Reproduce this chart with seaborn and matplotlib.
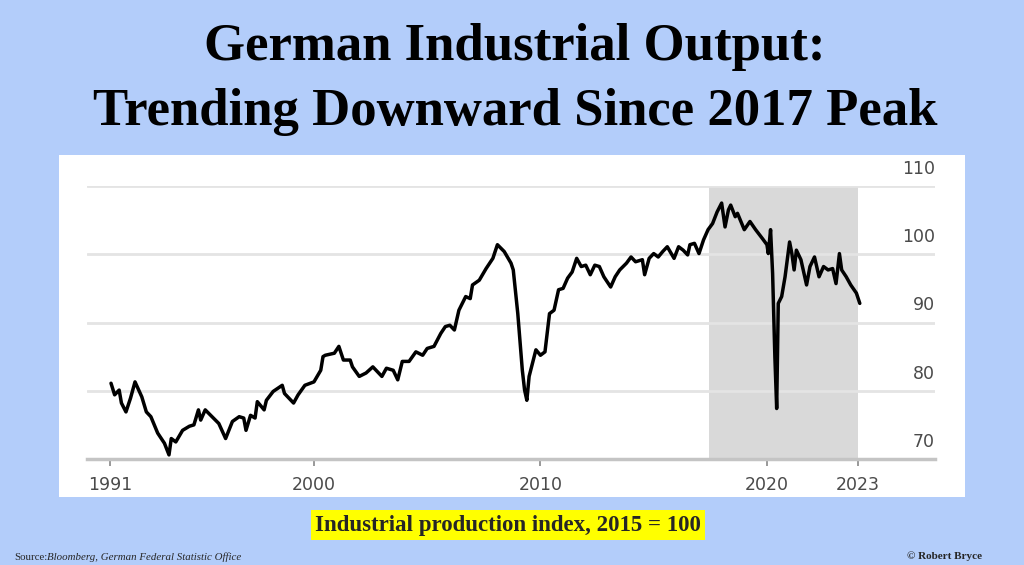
import matplotlib
matplotlib.use("Agg")
import matplotlib.pyplot as plt
import matplotlib.transforms as mtransforms
from matplotlib.patches import Rectangle
import seaborn as sns

# industrial production index (2015 = 100)
years = [1991.04, 1991.2, 1991.4, 1991.5, 1991.7, 1991.9, 1992.1, 1992.4, 1992.6, 1992.8,
         1993.1, 1993.4, 1993.6, 1993.7, 1993.9, 1994.2, 1994.5, 1994.7, 1994.9, 1995.0,
         1995.2, 1995.5, 1995.8, 1996.1, 1996.4, 1996.7, 1996.9, 1997.0, 1997.2, 1997.4,
         1997.5, 1997.8, 1997.9, 1998.2, 1998.6, 1998.7, 1998.9, 1999.1, 1999.3, 1999.6,
         2000.0, 2000.3, 2000.4, 2000.5, 2000.9, 2001.1, 2001.3, 2001.6, 2001.7, 2002.0,
         2002.3, 2002.6, 2003.0, 2003.2, 2003.5, 2003.7, 2003.9, 2004.2, 2004.5, 2004.8,
         2005.0, 2005.3, 2005.6, 2005.8, 2006.0, 2006.2, 2006.4, 2006.7, 2006.9, 2007.0,
         2007.3, 2007.6, 2007.9, 2008.1, 2008.4, 2008.7, 2008.8, 2009.0, 2009.2, 2009.3,
         2009.4, 2009.5, 2009.8, 2010.0, 2010.2, 2010.4, 2010.6, 2010.8, 2011.0, 2011.2,
         2011.4, 2011.6, 2011.8, 2012.0, 2012.2, 2012.4, 2012.6, 2012.8, 2013.1, 2013.3,
         2013.5, 2013.8, 2014.0, 2014.2, 2014.5, 2014.6, 2014.8, 2015.0, 2015.2, 2015.4,
         2015.6, 2015.9, 2016.1, 2016.3, 2016.5, 2016.6, 2016.8, 2017.0, 2017.2, 2017.4,
         2017.6, 2017.8, 2018.0, 2018.15, 2018.3, 2018.4, 2018.6, 2018.7, 2019.0, 2019.25,
         2019.5, 2019.8, 2020.0, 2020.06, 2020.16, 2020.25, 2020.35, 2020.43, 2020.5, 2020.65,
         2020.8, 2021.0, 2021.1, 2021.2, 2021.3, 2021.5, 2021.75, 2021.9, 2022.1, 2022.3,
         2022.5, 2022.7, 2022.9, 2023.05, 2023.2, 2023.3, 2023.5, 2023.7, 2023.95, 2024.1]
index = [81.1, 79.4, 80.1, 78.2, 76.9, 78.9, 81.3, 79.1, 76.9, 76.2,
         73.8, 72.3, 70.6, 73.0, 72.5, 74.2, 74.8, 75.0, 77.2, 75.7,
         77.2, 76.2, 75.2, 73.0, 75.5, 76.2, 76.0, 74.2, 76.4, 76.0,
         78.4, 77.2, 78.6, 79.9, 80.8, 79.6, 78.9, 78.2, 79.4, 80.8,
         81.3, 83.0, 85.0, 85.2, 85.5, 86.5, 84.5, 84.5, 83.5, 82.1,
         82.6, 83.5, 82.1, 83.3, 83.0, 81.6, 84.3, 84.3, 85.7, 85.2,
         86.2, 86.5, 88.4, 89.4, 89.6, 88.9, 91.8, 93.8, 93.5, 95.5,
         96.2, 97.9, 99.4, 101.4, 100.4, 98.7, 97.7, 91.3, 83.0, 80.1,
         78.6, 82.1, 86.0, 85.2, 85.7, 91.3, 91.8, 94.8, 95.0, 96.5,
         97.4, 99.4, 98.2, 98.4, 97.0, 98.4, 98.2, 96.7, 95.2, 96.7,
         97.7, 98.7, 99.6, 98.9, 99.2, 97.0, 99.4, 100.1, 99.6, 100.4,
         101.1, 99.4, 101.1, 100.6, 99.9, 101.4, 101.6, 100.1, 102.1, 103.6,
         104.5, 106.2, 107.5, 104.0, 106.5, 107.2, 105.5, 106.0, 103.6, 104.8,
         103.6, 102.3, 101.4, 100.1, 103.6, 97.2, 85.0, 77.4, 92.8, 93.8,
         96.7, 101.8, 100.1, 97.7, 100.6, 99.2, 95.5, 98.2, 99.6, 96.7,
         98.2, 97.7, 97.9, 95.7, 100.1, 97.7, 96.7, 95.5, 94.3, 92.8]

ytick_vals = [70, 80, 90, 100, 110]
xtick_pos = [1991, 2000, 2010, 2020, 2024]
xtick_labels = ["1991", "2000", "2010", "2020", "2023"]
shade_start, shade_end = 2017.43, 2024.0

sns.set_theme(style="white")
plt.rcParams["font.family"] = ["DejaVu Sans"]

fig = plt.figure(figsize=(10.24, 5.65), dpi=100, facecolor="#b3cdfa")
fig.patches.append(Rectangle((59 / 1024, 68 / 565), 906 / 1024, 342 / 565,
                             transform=fig.transFigure, facecolor="white",
                             edgecolor="none", zorder=-1))

ax = fig.add_axes([87 / 1024, 106 / 565, 848 / 1024, 273 / 565])
ax.set_facecolor("white")

ax.axvspan(shade_start, shade_end, color="#d9d9d9", zorder=0, lw=0)
sns.lineplot(x=years, y=index, color="black", linewidth=2.5, ax=ax, zorder=3)

ax.set_xlim(1989.98, 2027.42)
ax.set_ylim(70, 110)

ax.set_yticks(ytick_vals, labels=[str(v) for v in ytick_vals])
ax.set_xticks(xtick_pos, labels=xtick_labels)
ax.grid(axis="y", color="#e4e4e4", linewidth=2, zorder=1)
ax.set_axisbelow(True)

for side in ["top", "left", "right"]:
    ax.spines[side].set_visible(False)
ax.spines["bottom"].set_color("#c4c4c4")
ax.spines["bottom"].set_linewidth(2.5)
ax.spines["bottom"].set_zorder(2)

ax.yaxis.tick_right()
ax.tick_params(axis="y", length=0, pad=0, labelsize=12.5, labelcolor="#4a4a4a")
ax.tick_params(axis="x", bottom=True, length=5, width=1.2, color="#888888",
               pad=7, labelsize=12.5, labelcolor="#4a4a4a")

# Bloomberg style: value labels sit just above their grid line
shift = mtransforms.ScaledTranslation(0, 19 / 100, fig.dpi_scale_trans)
for tick in ax.yaxis.get_major_ticks():
    tick.label2.set_horizontalalignment("right")
    tick.label2.set_transform(tick.label2.get_transform() + shift)
ax.set_xlabel("")
ax.set_ylabel("")

serif = ["Liberation Serif", "DejaVu Serif"]
fig.text(0.503, 1 - 47 / 565, "German Industrial Output:", ha="center", va="center",
         fontsize=38, fontweight="bold", family=serif, color="black")
fig.text(0.503, 1 - 112 / 565, "Trending Downward Since 2017 Peak", ha="center", va="center",
         fontsize=38, fontweight="bold", family=serif, color="black")

fig.text(508 / 1024, 1 - 525 / 565, "Industrial production index, 2015 = 100",
         ha="center", va="center", fontsize=16.5, fontweight="bold", family=serif,
         bbox=dict(facecolor="#ffff00", edgecolor="none", pad=3))

fig.text(14 / 1024, 1 - 557 / 565, "Source:", ha="left", va="center",
         fontsize=7.8, family=serif)
fig.text(47 / 1024, 1 - 557 / 565, "Bloomberg, German Federal Statistic Office",
         ha="left", va="center", fontsize=7.8, family=serif, style="italic")
fig.text(982 / 1024, 1 - 556 / 565, "\u00a9 Robert Bryce", ha="right", va="center",
         fontsize=8, fontweight="bold", family=serif)

fig.savefig("out.png", dpi=100, facecolor=fig.get_facecolor())
